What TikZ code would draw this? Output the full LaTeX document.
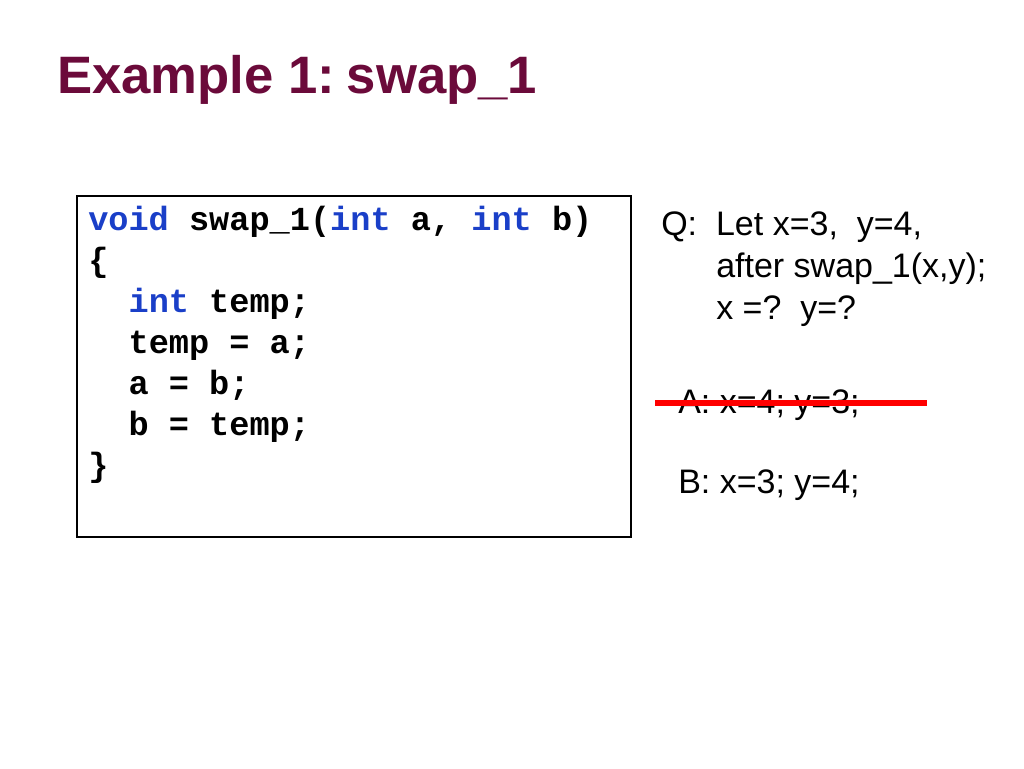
\documentclass[tikz,border=0pt]{standalone}
\usepackage{fontspec}
\setmainfont{Liberation Sans}
\newfontfamily\codefont{Liberation Mono}
\definecolor{titlec}{HTML}{6B0A3A}
\definecolor{kw}{HTML}{1A3FC8}
\begin{document}
\begin{tikzpicture}[x=0.75pt,y=-0.75pt,
  codeline/.style={anchor=base west,inner sep=0pt,font=\codefont\bfseries\fontsize{25.2}{29}\selectfont},
  qtext/.style={anchor=base west,inner sep=0pt,font=\fontsize{25.5}{29}\selectfont}]
\useasboundingbox (0,0) rectangle (1024,768);
\node[anchor=base west,inner sep=0pt,text=titlec,font=\bfseries\fontsize{39.5}{46}\selectfont] (title) at (57,93) {Example 1:\hspace{-0.15em} swap\_1};
\draw[line width=0.8pt] (77,196) rectangle (631,537);
\node[codeline] (l1) at (88,230) {\textcolor{kw}{void} swap\_1(\textcolor{kw}{int} a, \textcolor{kw}{int} b)};
\node[codeline] (l2) at (88,271) {\{};
\node[codeline] (l3) at (88,312) {\ \ \textcolor{kw}{int} temp;};
\node[codeline] (l4) at (88,353) {\ \ temp = a;};
\node[codeline] (l5) at (88,394) {\ \ a = b;};
\node[codeline] (l6) at (88,435) {\ \ b = temp;};
\node[codeline] (l7) at (88,476) {\}};
\node[qtext] (q1) at (661,235) {Q:\ \ Let x=3,\ \ y=4,};
\node[qtext] (q2) at (716,277) {after swap\_1(x,y);};
\node[qtext] (q3) at (716,319) {x =?\ \ y=?};
\node[qtext] (a) at (678,413) {A: x=4; y=3;};
\node[qtext] (b) at (678,493) {B: x=3; y=4;};
\coordinate (s1) at (655,403);
\coordinate (s2) at (927,403);
\draw[red,line width=3.8pt] (s1) -- (s2);
\end{tikzpicture}
\end{document}
